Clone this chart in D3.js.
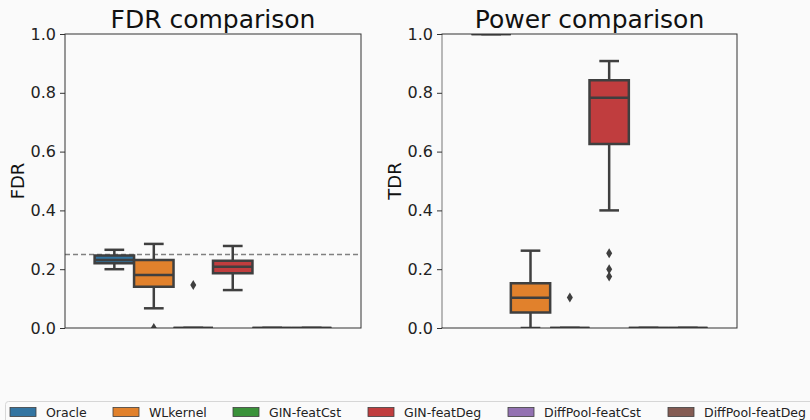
<!DOCTYPE html>
<html>
<head>
<meta charset="utf-8">
<script src="https://cdn.jsdelivr.net/npm/d3@7"></script>
<style>
  body { margin: 0; background: #fafafa; }
  svg { display: block; font-family: "DejaVu Sans", sans-serif; }
</style>
</head>
<body>
<script>
// methods (hue levels) and their colours
var methods = ["Oracle", "WLkernel", "GIN-featCst", "GIN-featDeg", "DiffPool-featCst", "DiffPool-featDeg"];
var colors = ["#3274a1", "#e1812c", "#3a923a", "#c03d3e", "#9372b2", "#845b53"];

// box stats: [whisker low, q1, median, q3, whisker high]
var fdrBoxes = [
  [0.200, 0.220, 0.231, 0.247, 0.266],
  [0.067, 0.140, 0.180, 0.231, 0.286],
  [0, 0, 0, 0, 0],
  [0.129, 0.186, 0.208, 0.229, 0.279],
  [0, 0, 0, 0, 0],
  [0, 0, 0, 0, 0]
];
var fdrOutliers = [[], [0.0], [0.146], [], [], []];

var tdrBoxes = [
  [1, 1, 1, 1, 1],
  [0.0, 0.053, 0.103, 0.152, 0.263],
  [0, 0, 0, 0, 0],
  [0.400, 0.626, 0.783, 0.843, 0.908],
  [0, 0, 0, 0, 0],
  [0, 0, 0, 0, 0]
];
var tdrOutliers = [[], [], [0.104], [0.254, 0.200, 0.175], [], []];

var yTicks = [0, 0.2, 0.4, 0.6, 0.8, 1.0];
var fdrTarget = 0.25;

var W = 810, H = 420;
var svg = d3.select("body").append("svg").attr("width", W).attr("height", H);
svg.append("rect").attr("width", W).attr("height", H).attr("fill", "#fafafa");

var plotTop = 34, plotBottom = 328;
var lineColor = "#3f3f3f";

function drawPanel(id, left, right, title, ylabel, boxes, outliers, refLine, greyLeft) {
  var g = svg.append("g");
  // seaborn: one x category spanning [-0.5, 0.5], hue levels share 0.8 of it
  var span = right - left;
  var x = d3.scaleBand().domain(methods).range([left + span * 0.1, right - span * 0.1]).padding(0);
  var y = d3.scaleLinear().domain([0, 1]).range([plotBottom, plotTop]);

  g.append("clipPath").attr("id", "clip" + id)
    .append("rect").attr("x", left).attr("y", plotTop).attr("width", right - left).attr("height", plotBottom - plotTop);

  var plot = g.append("g").attr("clip-path", "url(#clip" + id + ")");

  if (refLine != null) {
    plot.append("line")
      .attr("x1", left).attr("x2", right)
      .attr("y1", y(refLine)).attr("y2", y(refLine))
      .attr("stroke", "#808080").attr("stroke-width", 1.4)
      .attr("stroke-dasharray", "5,3");
  }

  var bw = x.bandwidth();
  methods.forEach(function (m, i) {
    var s = boxes[i];
    var cx = x(m) + x.bandwidth() / 2;
    var bg = plot.append("g");
    // whiskers
    bg.append("line").attr("x1", cx).attr("x2", cx).attr("y1", y(s[0])).attr("y2", y(s[1]))
      .attr("stroke", lineColor).attr("stroke-width", 2.5);
    bg.append("line").attr("x1", cx).attr("x2", cx).attr("y1", y(s[3])).attr("y2", y(s[4]))
      .attr("stroke", lineColor).attr("stroke-width", 2.5);
    // caps
    [s[0], s[4]].forEach(function (v) {
      bg.append("line").attr("x1", cx - bw / 4).attr("x2", cx + bw / 4).attr("y1", y(v)).attr("y2", y(v))
        .attr("stroke", lineColor).attr("stroke-width", 2.5);
    });
    // box (a path, so a zero-height box still shows its outline)
    var x0 = cx - bw / 2, x1 = cx + bw / 2, y0 = y(s[3]), y1 = y(s[1]);
    bg.append("path")
      .attr("d", "M" + x0 + "," + y0 + "H" + x1 + "V" + y1 + "H" + x0 + "Z")
      .attr("fill", colors[i]).attr("stroke", lineColor).attr("stroke-width", 2.5)
      .attr("stroke-linejoin", "miter");
    // median
    bg.append("line").attr("x1", x0).attr("x2", x1).attr("y1", y(s[2])).attr("y2", y(s[2]))
      .attr("stroke", lineColor).attr("stroke-width", 2.5);
    // outliers as thin diamonds
    outliers[i].forEach(function (v) {
      var py = y(v);
      bg.append("path")
        .attr("d", "M" + cx + "," + (py - 5) + "L" + (cx + 3) + "," + py + "L" + cx + "," + (py + 5) + "L" + (cx - 3) + "," + py + "Z")
        .attr("fill", lineColor);
    });
  });

  // spines
  g.append("rect").attr("x", left).attr("y", plotTop).attr("width", right - left).attr("height", plotBottom - plotTop)
    .attr("fill", "none").attr("stroke", "#333").attr("stroke-width", 1);
  if (greyLeft) {
    g.append("line").attr("x1", left).attr("x2", left).attr("y1", plotTop + 1).attr("y2", plotBottom - 1)
      .attr("stroke", "#b8b8b8").attr("stroke-width", 2);
  }

  // y axis
  var ax = g.append("g").attr("transform", "translate(" + left + ",0)")
    .call(d3.axisLeft(y).tickValues(yTicks).tickFormat(d3.format(".1f")).tickSize(5).tickPadding(4));
  ax.select(".domain").remove();
  ax.selectAll(".tick line").attr("stroke", "#333");
  ax.selectAll(".tick text").attr("font-size", 16).attr("fill", "#222")
    .attr("font-family", "DejaVu Sans, sans-serif");

  g.append("text")
    .attr("x", (left + right) / 2).attr("y", 28)
    .attr("text-anchor", "middle").attr("font-size", 25).attr("fill", "#111")
    .text(title);

  g.append("text")
    .attr("transform", "translate(" + (left - 41) + "," + ((plotTop + plotBottom) / 2) + ") rotate(-90)")
    .attr("text-anchor", "middle").attr("font-size", 18).attr("fill", "#111")
    .text(ylabel);
}

drawPanel("a", 65, 361, "FDR comparison", "FDR", fdrBoxes, fdrOutliers, fdrTarget, false);
drawPanel("b", 442, 737, "Power comparison", "TDR", tdrBoxes, tdrOutliers, null, true);

// legend
var legendX = [10, 113, 233, 368, 508, 668];
var lg = svg.append("g");
lg.append("rect").attr("x", 5.5).attr("y", 401.5).attr("width", 820).attr("height", 30).attr("rx", 3)
  .attr("fill", "#fafafa").attr("stroke", "#d6d6d6");
methods.forEach(function (m, i) {
  lg.append("rect").attr("x", legendX[i]).attr("y", 407.5).attr("width", 26).attr("height", 9)
    .attr("fill", colors[i]).attr("stroke", "#3f3f3f").attr("stroke-width", 0.8);
  lg.append("text").attr("x", legendX[i] + 36).attr("y", 416.5)
    .attr("font-size", 12.5).attr("fill", "#222").text(m);
});
</script>
</body>
</html>
